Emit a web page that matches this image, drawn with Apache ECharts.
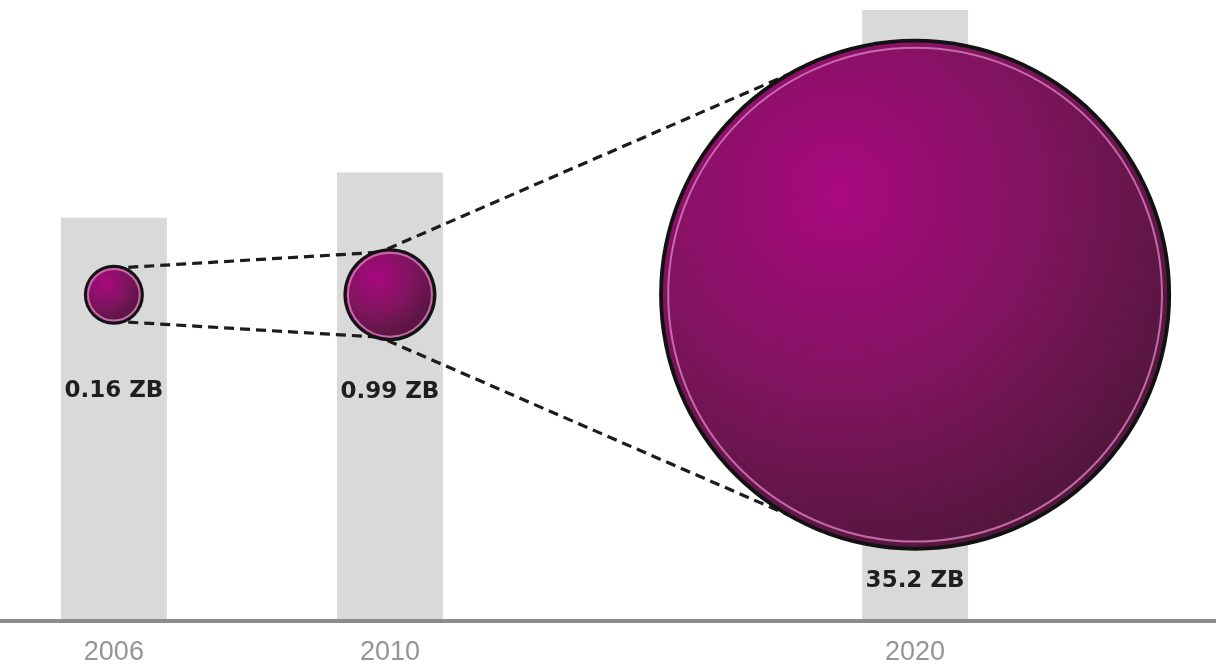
<!DOCTYPE html>
<html>
<head>
<meta charset="utf-8">
<script src="https://cdn.jsdelivr.net/npm/echarts@6/dist/echarts.min.js"></script>
<style>
html, body { margin: 0; padding: 0; background: #fff; }
#chart { width: 1216px; height: 666px; }
</style>
</head>
<body>
<div id="chart"></div>
<script>
// data volume by year (zettabytes)
var years = [2006, 2010, 2020];
var volumes = [0.16, 0.99, 35.2];
var volumeLabels = ['0.16 ZB', '0.99 ZB', '35.2 ZB'];
// grey backing columns, % of plot height
var columnHeights = [66.0, 73.4, 100];

// look & feel
var bubbleLevel = 53.4;
var bubbleSizes = [60, 93, 512];
var labelGaps = [55, 39, 19];

var chart = echarts.init(document.getElementById('chart'));

function connector(params, api) {
    var a = api.value(0), b = api.value(1);
    var i = years.indexOf(a), j = years.indexOf(b);
    var c1 = api.coord([a, bubbleLevel]);
    var c2 = api.coord([b, bubbleLevel]);
    var inset = 3.5;
    var r1 = bubbleSizes[i] / 2 - inset;
    var r2 = bubbleSizes[j] / 2 - inset;
    var dx = c2[0] - c1[0], dy = c2[1] - c1[1];
    var dist = Math.sqrt(dx * dx + dy * dy);
    var ux = dx / dist, uy = dy / dist;
    var s = (r2 - r1) / dist, c = Math.sqrt(1 - s * s);
    var px = -uy, py = ux;
    var children = [];
    [-1, 1].forEach(function (sign) {
        var nx = -s * ux + sign * c * px;
        var ny = -s * uy + sign * c * py;
        children.push({
            type: 'line',
            shape: {
                x1: c1[0] + r1 * nx, y1: c1[1] + r1 * ny,
                x2: c2[0] + r2 * nx, y2: c2[1] + r2 * ny
            },
            style: { stroke: '#1c1c1c', lineWidth: 3.2, lineDash: [10, 6] }
        });
    });
    return { type: 'group', children: children };
}

var bubbleFill = {
    type: 'radial', x: 0.35, y: 0.3, r: 0.8,
    colorStops: [
        { offset: 0, color: '#a9087f' },
        { offset: 0.5, color: '#80145f' },
        { offset: 1, color: '#4a1736' }
    ]
};

var points = years.map(function (y, i) { return [y, bubbleLevel, volumes[i]]; });

var xRange = { min: 2004.35, max: 2024.36 };

chart.setOption({
    animation: false,
    backgroundColor: '#ffffff',
    grid: { left: 0, right: 0, top: 10, bottom: 44 },
    xAxis: [{
        type: 'value',
        min: xRange.min,
        max: xRange.max,
        breaks: [{ start: 2011, end: 2019, gap: 5.61 }],
        breakArea: { show: false },
        splitLine: { show: false },
        axisTick: { show: false },
        axisLine: { show: false },
        axisLabel: {
            customValues: years,
            formatter: function (v) { return String(v); },
            margin: 18,
            color: '#959595',
            fontFamily: 'Liberation Sans',
            fontSize: 27
        }
    }, {
        // plain baseline across the whole width
        type: 'value',
        position: 'bottom',
        min: xRange.min,
        max: xRange.max,
        z: 10,
        splitLine: { show: false },
        axisTick: { show: false },
        axisLabel: { show: false },
        axisLine: { show: true, lineStyle: { color: '#8c8c8c', width: 4 } }
    }],
    yAxis: { type: 'value', min: 0, max: 100, show: false },
    series: [
        {
            type: 'bar',
            z: 1,
            barWidth: 106,
            itemStyle: { color: '#d9d9d9' },
            data: years.map(function (y, i) { return [y, columnHeights[i]]; })
        },
        {
            type: 'custom',
            z: 2,
            renderItem: connector,
            data: years.slice(0, -1).map(function (y, i) { return [y, years[i + 1]]; })
        },
        {
            type: 'scatter',
            z: 3,
            symbolSize: function (v, p) { return bubbleSizes[p.dataIndex]; },
            itemStyle: { color: '#121212', opacity: 1 },
            label: {
                show: true,
                position: 'bottom',
                formatter: function (p) { return volumeLabels[p.dataIndex]; },
                color: '#1e1e1e',
                fontFamily: 'DejaVu Sans',
                fontWeight: 'bold',
                fontSize: 23
            },
            data: points.map(function (pt, i) {
                return { value: pt, label: { distance: labelGaps[i] } };
            })
        },
        {
            type: 'scatter',
            z: 4,
            symbolSize: function (v, p) {
                var d = bubbleSizes[p.dataIndex];
                return d - 2 * (2.8 + d / 500);
            },
            itemStyle: { color: bubbleFill, opacity: 1 },
            data: points
        },
        {
            type: 'scatter',
            z: 5,
            symbolSize: function (v, p) {
                var d = bubbleSizes[p.dataIndex];
                return d - 7 - d * 0.022;
            },
            itemStyle: {
                color: 'transparent',
                borderColor: 'rgba(214,120,184,0.85)',
                borderWidth: 2,
                opacity: 1
            },
            data: points
        }
    ]
});
</script>
</body>
</html>
